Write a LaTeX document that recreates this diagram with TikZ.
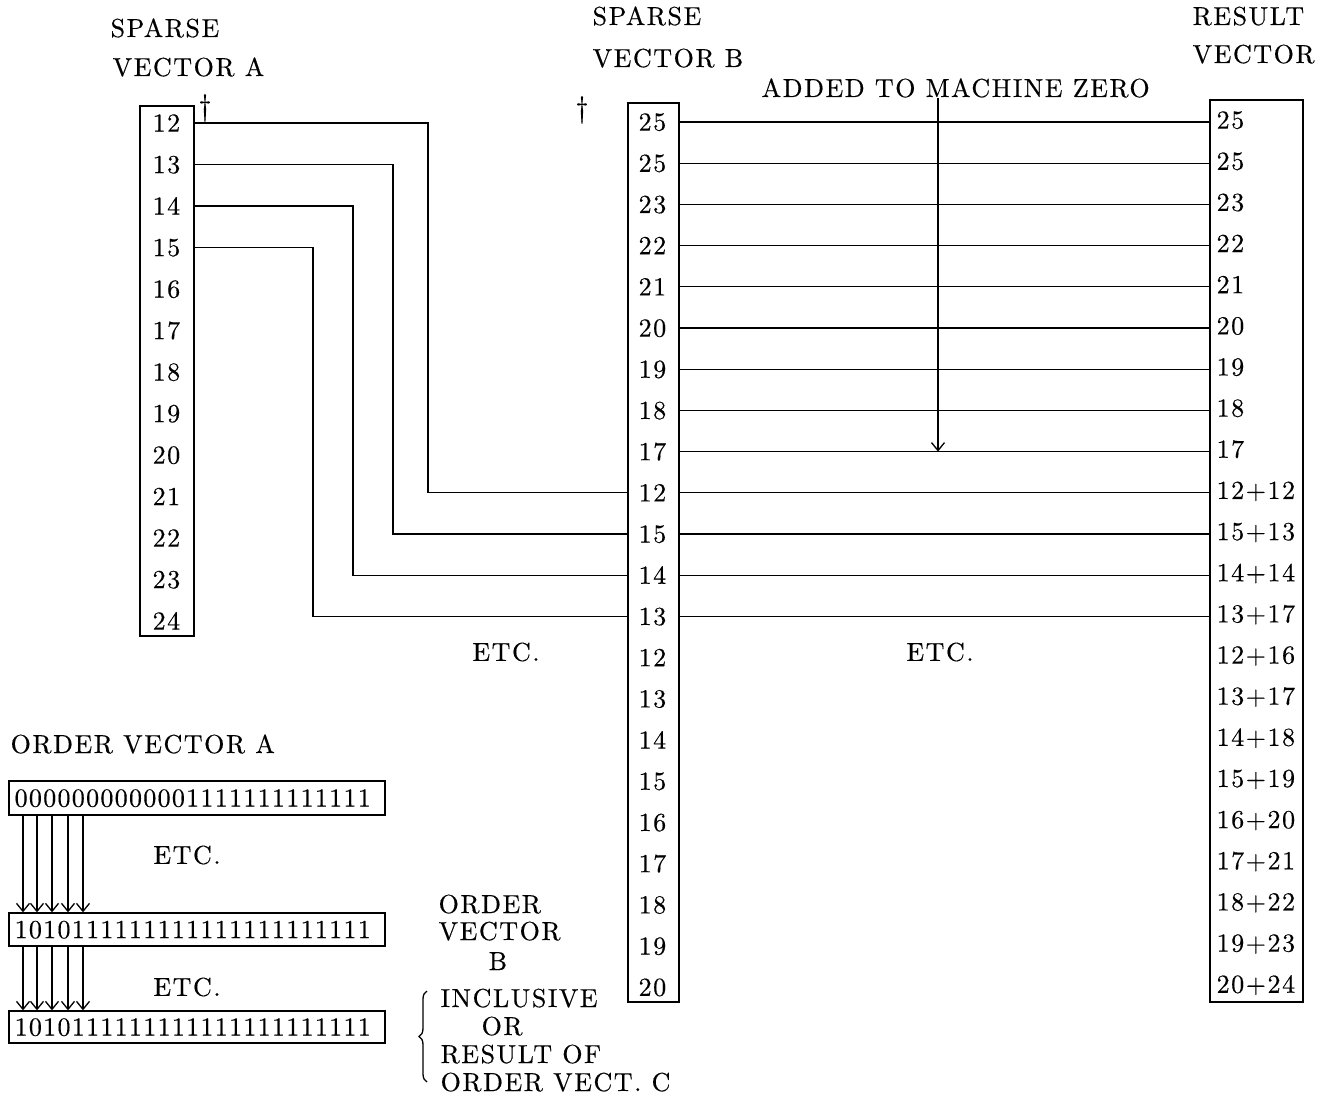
\documentclass[tikz,border=0pt]{standalone}
\usepackage{fontspec}
\setmainfont{lmroman10-regular.otf}[LetterSpace=6,FakeBold=0.4]
\newfontfamily\bitfont{lmroman10-regular.otf}[LetterSpace=5,FakeBold=0.4]
\usetikzlibrary{arrows.meta,fit,decorations.pathreplacing}
\begin{document}
\begin{tikzpicture}[x=0.5pt,y=-0.5pt, line width=0.65pt,
  every node/.style={inner sep=0pt, font=\fontsize{13}{15}\selectfont},
  lbl/.style={anchor=base west},
  num/.style={anchor=west, text height=8.6pt, text depth=0pt},
  bits/.style={num, font=\fontsize{13}{15}\bitfont},
  boxed/.style={draw, inner sep=0pt},
  dagg/.style={font=\fontsize{15}{17}\selectfont},
  >={Straight Barb[length=4pt,width=6.5pt]}]
\useasboundingbox (0,0) rectangle (1328,1097);

% headings
\node[lbl] (sa1) at (110,37) {SPARSE};
\node[lbl] (sa2) at (112,76) {VECTOR A};
\node[lbl] (sb1) at (592,25) {SPARSE};
\node[lbl] (sb2) at (592,67) {VECTOR B};
\node[lbl] (rv1) at (1192,25) {RESULT};
\node[lbl] (rv2) at (1192,63) {VECTOR};
\node[lbl] (added) at (761,97) {ADDED TO MACHINE ZERO};
\node[dagg] (dagA) at (205,108) {\textdagger};
\node[dagg] (dagB) at (582,110) {\textdagger};

% vector boxes
\node[boxed, fit={(140,106) (194,636)}] (boxA) {};
\node[boxed, fit={(628,103) (679,1002)}] (boxB) {};
\node[boxed, fit={(1210,100) (1303,1002)}] (boxR) {};

\foreach \t [count=\i] in {12,13,14,15,16,17,18,19,20,21,22,23,24}
  \node[num] (a\i) at (152,{123+41.5*(\i-1)}) {\t};
\foreach \t [count=\i] in {25,25,23,22,21,20,19,18,17,12,15,14,13,12,13,14,15,16,17,18,19,20}
  \node[num] (b\i) at (638,{122+41.2*(\i-1)}) {\t};
\foreach \t [count=\i] in {25,25,23,22,21,20,19,18,17,12+12,15+13,14+14,13+17,12+16,13+17,14+18,15+19,16+20,17+21,18+22,19+23,20+24}
  \node[num] (r\i) at (1216,{120+41.15*(\i-1)}) {\t};

% A -> B connectors
\coordinate (k1) at (428,0);
\coordinate (k2) at (393,0);
\coordinate (k3) at (353,0);
\coordinate (k4) at (313,0);
\draw (boxA.east |- a1) -| (k1 |- b10) -- (boxB.west |- b10);
\draw (boxA.east |- a2) -| (k2 |- b11) -- (boxB.west |- b11);
\draw (boxA.east |- a3) -| (k3 |- b12) -- (boxB.west |- b12);
\draw (boxA.east |- a4) -| (k4 |- b13) -- (boxB.west |- b13);

% B -> result connectors
\foreach \i in {1,...,13}
  \draw (boxB.east |- b\i) -- (boxR.west |- b\i);

% machine zero arrow
\coordinate (mz) at (938,0);
\draw[->] (added.south -| mz) -- (mz |- b9);

\node (etc1) at (506,652) {ETC.};
\node (etc2) at (940,652) {ETC.};

% order vectors
\node[lbl] (ordA) at (10,753) {ORDER VECTOR A};
\node[boxed, fit={(9,781) (385,815)}] (o1) {};
\node[boxed, fit={(9,913) (385,946)}] (o2) {};
\node[boxed, fit={(9,1011) (385,1043)}] (o3) {};
\node[bits] (o1t) at (14,798) {0000000000001111111111111};
\node[bits] (o2t) at (14,929.5) {1010111111111111111111111};
\node[bits] (o3t) at (14,1027) {1010111111111111111111111};
\foreach \x [count=\i] in {23,37,52,68,83} {
  \coordinate (c\i) at (\x,0);
  \draw[->] (o1.south -| c\i) -- (o2.north -| c\i);
  \draw[->] (o2.south -| c\i) -- (o3.north -| c\i);
}
\node (etc3) at (187,855) {ETC.};
\node (etc4) at (187,987) {ETC.};

\node[lbl] (ob1) at (438,913) {ORDER};
\node[lbl] (ob2) at (438,940) {VECTOR};
\node[lbl] (ob3) at (488,970) {B};
\node[lbl] (inc1) at (440,1007) {INCLUSIVE};
\node[lbl] (inc2) at (481,1035) {OR};
\node[lbl] (inc3) at (440,1063) {RESULT OF};
\node[lbl] (inc4) at (440,1091) {ORDER VECT. C};
\draw[decorate, decoration={brace, amplitude=4pt}] (427,1082) -- (427,991);
\end{tikzpicture}
\end{document}
